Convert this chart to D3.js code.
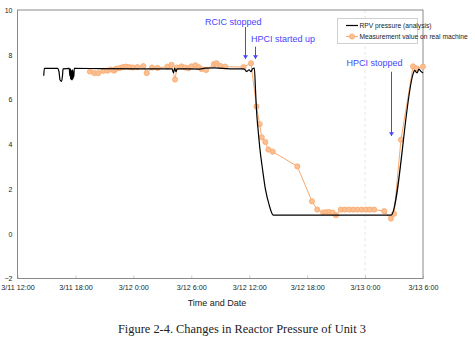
<!DOCTYPE html>
<html lang="en">
<head>
<meta charset="utf-8">
<title>Changes in Reactor Pressure of Unit 3</title>
<script src="https://d3js.org/d3.v7.min.js"></script>
<style>
  body { margin: 0; background: #fff; }
  text { font-family: "Liberation Sans", Arial, sans-serif; }
</style>
</head>
<body>
<script>
// data (times are 2011, pressure in MPa[abs])
var analysisTimes = ["3/11 14:43", "3/11 14:47", "3/11 16:09", "3/11 16:18", "3/11 16:24", "3/11 16:34",
  "3/11 16:40", "3/11 16:43", "3/11 17:22", "3/11 17:25", "3/11 17:28", "3/11 17:30", "3/11 17:32",
  "3/11 17:35", "3/11 17:37", "3/11 17:40", "3/11 17:42", "3/11 17:45", "3/11 17:47", "3/11 17:50",
  "3/11 17:53", "3/11 20:33", "3/12 0:41", "3/12 4:00", "3/12 4:10", "3/12 4:16", "3/12 4:25",
  "3/12 4:31", "3/12 6:54", "3/12 7:25", "3/12 8:27", "3/12 10:01", "3/12 11:28", "3/12 11:44",
  "3/12 11:59", "3/12 12:11", "3/12 12:21", "3/12 12:32", "3/12 12:39", "3/12 12:45", "3/12 12:55",
  "3/12 13:07", "3/12 13:23", "3/12 13:41", "3/12 14:03", "3/12 14:30", "3/12 17:16", "3/12 21:24",
  "3/13 2:41", "3/13 5:00", "3/13 5:07", "3/13 5:23", "3/13 5:35", "3/13 5:47", "3/13 6:00"];
var analysisValues = [7.06, 7.39, 7.39, 7.24, 6.88, 6.81,
  7.10, 7.37, 7.39, 7.06, 7.37, 6.92, 7.33, 6.88, 7.28, 6.88, 7.33, 6.92, 7.24, 7.01,
  7.39, 7.38, 7.37, 7.37, 7.19, 7.40, 7.24, 7.37, 7.36, 7.40, 7.41, 7.37, 7.37, 7.25,
  7.33, 7.24, 7.37, 7.40, 6.44, 5.55, 4.66,
  3.76, 2.87, 1.98, 1.31, 0.83, 0.83, 0.83,
  0.83, 7.18, 7.30, 7.19, 7.36, 7.26, 7.19];

var measuredTimes = ["3/11 19:30", "3/11 19:57", "3/11 20:22", "3/11 20:53", "3/11 21:18", "3/11 21:39",
  "3/11 22:00", "3/11 22:12", "3/11 22:33", "3/11 22:54", "3/11 23:14", "3/11 23:35", "3/11 23:56",
  "3/12 0:25", "3/12 1:02", "3/12 1:23", "3/12 1:56", "3/12 2:30", "3/12 3:32", "3/12 3:57",
  "3/12 4:19", "3/12 4:31", "3/12 4:59", "3/12 5:21", "3/12 5:43", "3/12 6:01", "3/12 6:26",
  "3/12 6:45", "3/12 7:04", "3/12 7:32", "3/12 8:21", "3/12 8:37", "3/12 8:59", "3/12 9:30",
  "3/12 11:25", "3/12 12:11", "3/12 12:45", "3/12 13:05", "3/12 13:18", "3/12 13:40", "3/12 13:59",
  "3/12 14:26", "3/12 16:59", "3/12 18:30", "3/12 19:03", "3/12 19:40", "3/12 20:00", "3/12 20:19",
  "3/12 20:39", "3/12 20:59", "3/12 21:29", "3/12 21:55", "3/12 22:22", "3/12 22:47", "3/12 23:12",
  "3/12 23:39", "3/13 0:06", "3/13 0:30", "3/13 0:57", "3/13 1:59", "3/13 2:41", "3/13 3:00",
  "3/13 3:43", "3/13 4:58", "3/13 5:20", "3/13 6:00"];
var measuredValues = [7.25, 7.18, 7.18, 7.28, 7.29, 7.34,
  7.29, 7.37, 7.40, 7.45, 7.47, 7.45, 7.43,
  7.45, 7.49, 7.18, 7.43, 7.41, 7.47, 7.55,
  6.89, 7.43, 7.48, 7.43, 7.40, 7.48, 7.53,
  7.45, 7.36, 7.32, 7.58, 7.62, 7.50, 7.47,
  7.45, 7.62, 5.69, 4.90, 4.31, 4.10, 3.76,
  3.67, 3.01, 1.45, 1.08, 0.95, 0.97, 0.97,
  0.94, 0.83, 1.08, 1.08, 1.08, 1.08, 1.08,
  1.08, 1.08, 1.08, 1.08, 1.01, 0.68, 0.89,
  4.20, 7.48, 7.39, 7.47];

var xTickLabels = ["3/11 12:00", "3/11 18:00", "3/12 0:00", "3/12 6:00", "3/12 12:00", "3/12 18:00", "3/13 0:00", "3/13 6:00"];
var yTicks = [-2, 0, 2, 4, 6, 8, 10];

var seriesNames = ["RPV pressure (analysis)", "Measurement value on real machine"];

var eventLabels = ["RCIC stopped", "HPCI started up", "HPCI stopped"];
var eventTimes = ["3/12 11:36", "3/12 12:35", "3/13 2:42"];
var eventArrowFrom = [9.24, 8.36, 7.24];
var eventArrowTo = [7.81, 7.81, 4.37];

var caption = "Figure 2-4. Changes in Reactor Pressure of Unit 3";
var xTitle = "Time and Date";

// configuration
var width = 475, height = 363;
var plot = { left: 17.5, right: 423, top: 10, bottom: 278.5 };
var blue = "#4646ff";
var orange = "#f9a86e";
var textColor = "#222";

var parseTime = function (s) { return d3.timeParse("%Y/%m/%d %H:%M")("2011/" + s); };

var analysis = analysisTimes.map(function (t, i) { return { t: parseTime(t), v: analysisValues[i] }; });
var measured = measuredTimes.map(function (t, i) { return { t: parseTime(t), v: measuredValues[i] }; });
var tickDates = xTickLabels.map(parseTime);

var svg = d3.select("body").append("svg")
  .attr("width", width)
  .attr("height", height);

var xScale = d3.scaleTime()
  .domain([tickDates[0], tickDates[tickDates.length - 1]])
  .range([plot.left, plot.right]);
var yScale = d3.scaleLinear()
  .domain([-2, 10])
  .range([plot.bottom, plot.top]);

// faint dashed line at 3/13 0:00
svg.append("line")
  .attr("x1", xScale(tickDates[6])).attr("x2", xScale(tickDates[6]))
  .attr("y1", plot.top).attr("y2", plot.bottom)
  .attr("stroke", "#e6e6e6")
  .attr("stroke-dasharray", "3,3");

// x axis
var xAxis = svg.append("g")
  .attr("transform", "translate(0," + plot.bottom + ")")
  .call(d3.axisBottom(xScale)
    .tickValues(tickDates)
    .tickFormat(function (d, i) { return xTickLabels[i]; })
    .tickSizeInner(-3)
    .tickSizeOuter(0)
    .tickPadding(6));
xAxis.select(".domain").remove();
xAxis.selectAll(".tick line").attr("stroke", "#c8c8c8");
xAxis.selectAll(".tick text")
  .attr("font-size", 7.2)
  .attr("fill", textColor);

// y axis
var yAxis = svg.append("g")
  .attr("transform", "translate(" + plot.left + ",0)")
  .call(d3.axisLeft(yScale)
    .tickValues(yTicks)
    .tickSize(0)
    .tickPadding(5));
yAxis.select(".domain").remove();
yAxis.selectAll(".tick text")
  .attr("font-size", 7)
  .attr("fill", textColor);

// plot frame
svg.append("rect")
  .attr("x", plot.left).attr("y", plot.top)
  .attr("width", plot.right - plot.left)
  .attr("height", plot.bottom - plot.top)
  .attr("fill", "none")
  .attr("stroke", "#8a8a8a")
  .attr("stroke-width", 1);

// measured series
var line = d3.line()
  .x(function (d) { return xScale(d.t); })
  .y(function (d) { return yScale(d.v); });

svg.append("path")
  .datum(measured)
  .attr("d", line)
  .attr("fill", "none")
  .attr("stroke", orange)
  .attr("stroke-width", 1);

svg.selectAll("circle.meas").data(measured).enter().append("circle")
  .attr("class", "meas")
  .attr("cx", function (d) { return xScale(d.t); })
  .attr("cy", function (d) { return yScale(d.v); })
  .attr("r", 2.6)
  .attr("fill", "#fbbf91")
  .attr("stroke", orange)
  .attr("stroke-width", 0.8);

// analysis series
svg.append("path")
  .datum(analysis)
  .attr("d", line.curve(d3.curveMonotoneX))
  .attr("fill", "none")
  .attr("stroke", "#000")
  .attr("stroke-width", 1.2);

// event annotations
svg.append("defs").append("marker")
  .attr("id", "arrow")
  .attr("viewBox", "0 0 6 8")
  .attr("refX", 6).attr("refY", 4)
  .attr("markerWidth", 4).attr("markerHeight", 5)
  .attr("orient", "auto")
  .append("path")
  .attr("d", "M0,0 L6,4 L0,8 Z")
  .attr("fill", blue);

var labelDx = [16, -4.5, 11];
var labelAnchor = ["end", "start", "end"];
var labelY = [25, 42, 66];

eventLabels.forEach(function (label, i) {
  var x = Math.round(xScale(parseTime(eventTimes[i]))) + 0.5;
  svg.append("line")
    .attr("x1", x).attr("x2", x)
    .attr("y1", yScale(eventArrowFrom[i]))
    .attr("y2", yScale(eventArrowTo[i]))
    .attr("stroke", blue)
    .attr("stroke-width", 1)
    .attr("marker-end", "url(#arrow)");
  svg.append("text")
    .attr("x", x + labelDx[i])
    .attr("y", labelY[i])
    .attr("text-anchor", labelAnchor[i])
    .attr("font-size", 9)
    .attr("fill", blue)
    .text(label);
});

// legend
var legend = svg.append("g").attr("transform", "translate(337,18)");
legend.append("rect")
  .attr("x", 0.5).attr("y", 0.5)
  .attr("width", 80).attr("height", 25)
  .attr("fill", "#fff")
  .attr("stroke", "#d0d0d0");
legend.append("line")
  .attr("x1", 9).attr("x2", 21).attr("y1", 7.5).attr("y2", 7.5)
  .attr("stroke", "#000").attr("stroke-width", 1.2);
legend.append("line")
  .attr("x1", 9).attr("x2", 21).attr("y1", 18.5).attr("y2", 18.5)
  .attr("stroke", orange).attr("stroke-width", 1);
legend.append("circle")
  .attr("cx", 15).attr("cy", 18.5).attr("r", 2.6)
  .attr("fill", "#fbbf91").attr("stroke", orange).attr("stroke-width", 0.8);
legend.selectAll("text.leg").data(seriesNames).enter().append("text")
  .attr("class", "leg")
  .attr("x", 22.5)
  .attr("y", function (d, i) { return 10 + i * 11; })
  .attr("font-size", 6.7)
  .attr("fill", textColor)
  .text(function (d) { return d; });

// axis title and caption
svg.append("text")
  .attr("x", 217).attr("y", 306)
  .attr("text-anchor", "middle")
  .attr("font-size", 9)
  .attr("fill", textColor)
  .text(xTitle);

svg.append("text")
  .attr("x", 242).attr("y", 332.5)
  .attr("text-anchor", "middle")
  .style("font-family", "'Liberation Serif', 'Times New Roman', serif")
  .attr("font-size", 12.4)
  .attr("fill", textColor)
  .text(caption);
</script>
</body>
</html>
